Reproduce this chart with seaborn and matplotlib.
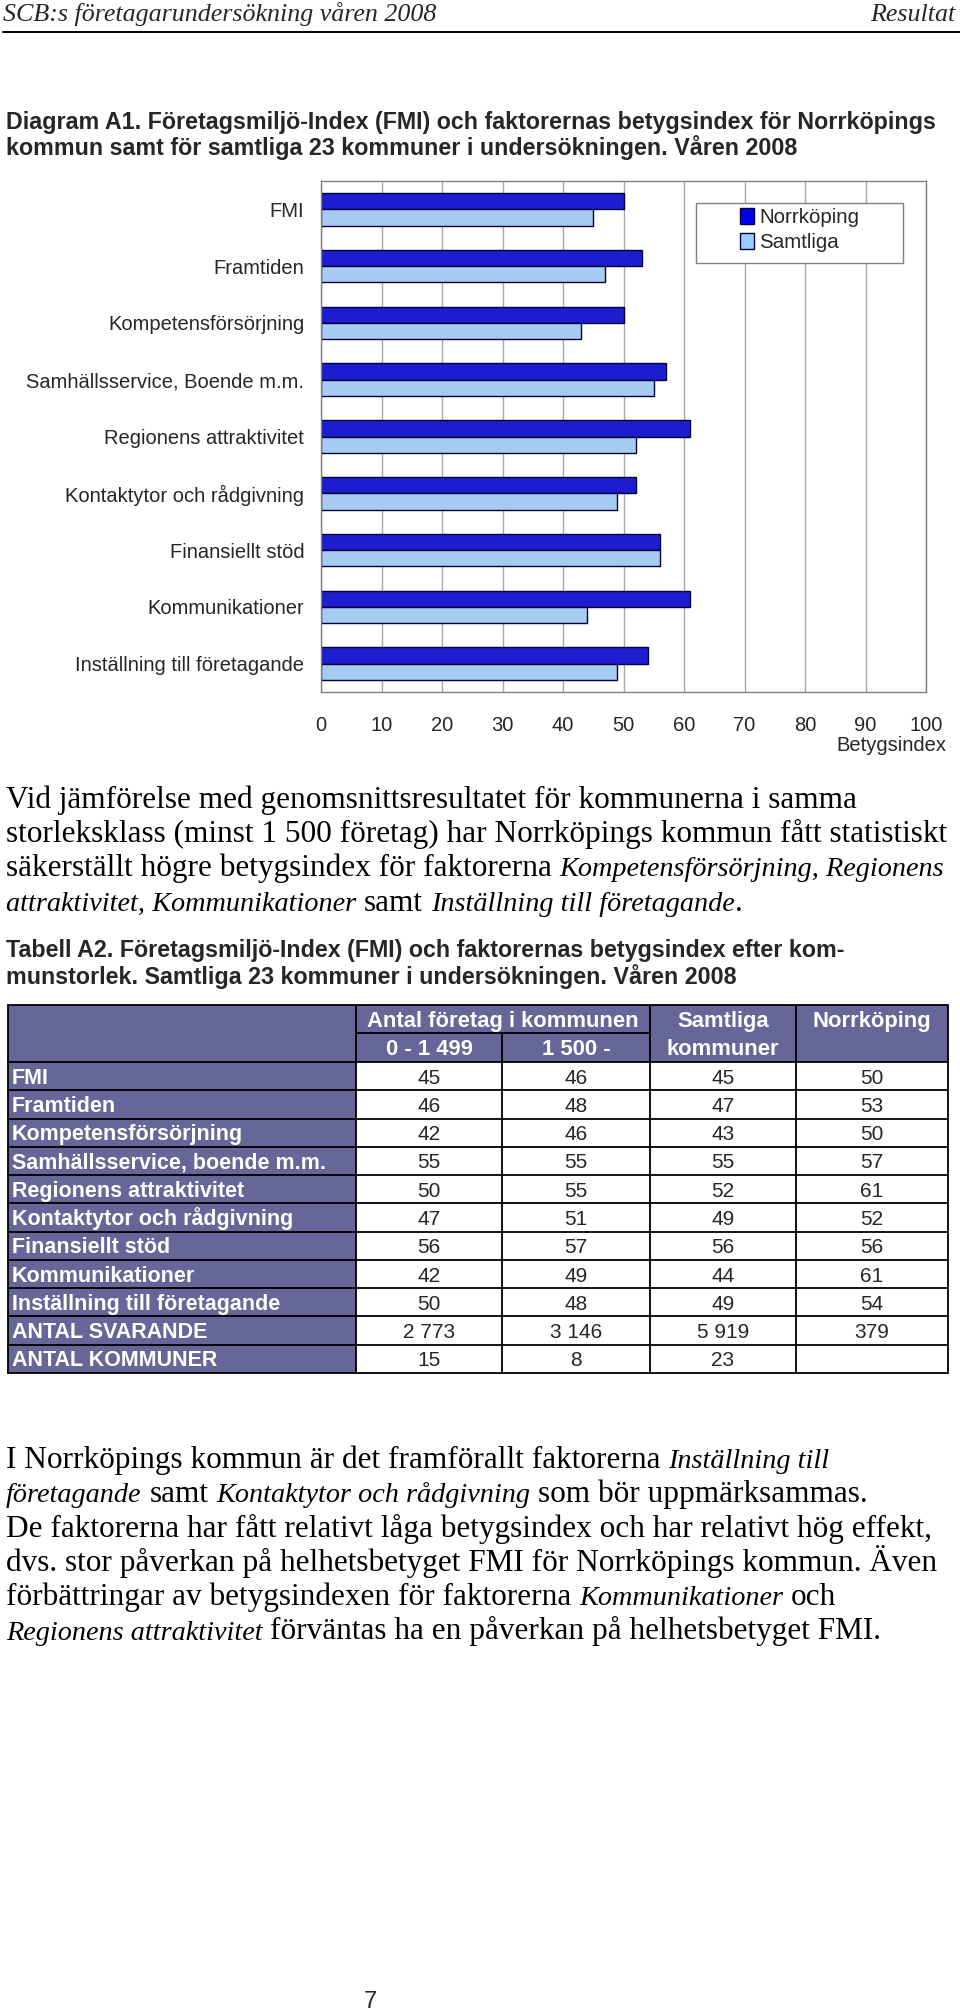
import matplotlib
matplotlib.use("Agg")
import matplotlib.pyplot as plt
from matplotlib.patches import Rectangle, Patch
import pandas as pd
import seaborn as sns

# --- data ---
kategorier = ["FMI", "Framtiden", "Kompetensförsörjning", "Samhällsservice, Boende m.m.",
              "Regionens attraktivitet", "Kontaktytor och rådgivning", "Finansiellt stöd",
              "Kommunikationer", "Inställning till företagande"]
serier = ["Norrköping", "Samtliga"]

tabell_rader = ["FMI", "Framtiden", "Kompetensförsörjning", "Samhällsservice, boende m.m.",
                "Regionens attraktivitet", "Kontaktytor och rådgivning", "Finansiellt stöd",
                "Kommunikationer", "Inställning till företagande", "ANTAL SVARANDE", "ANTAL KOMMUNER"]
sma_kommuner = [45, 46, 42, 55, 50, 47, 56, 42, 50, 2773, 15]
stora_kommuner = [46, 48, 46, 55, 55, 51, 57, 49, 48, 3146, 8]
samtliga = [45, 47, 43, 55, 52, 49, 56, 44, 49, 5919, 23]
norrkoping = [50, 53, 50, 57, 61, 52, 56, 61, 54, 379, None]

x_ticks = list(range(0, 101, 10))

W, H = 960, 2013
SANS = ["Liberation Sans", "DejaVu Sans"]
SERIF = ["Liberation Serif", "DejaVu Serif"]
MORK = "#0000ee"
LJUS = "#99ccff"
KANT = "#00003a"
LILA = "#666699"

sns.set_style("white")
plt.rcParams["font.family"] = SANS

fig = plt.figure(figsize=(W / 100, H / 100), dpi=100)
page = fig.add_axes([0, 0, 1, 1])
page.set_xlim(0, W)
page.set_ylim(H, 0)
page.axis("off")
renderer = fig.canvas.get_renderer()


def text_w(s, size, **kw):
    t = page.text(0, 0, s, fontsize=size, **kw)
    w = t.get_window_extent(renderer).width
    t.remove()
    return w


def fit_size(s, target, **kw):
    return 10 * target / text_w(s, 10, **kw)


def run_kw(style):
    return dict(family=SERIF, style="italic" if style == "i" else "normal")


def run_width(s, style, size):
    kw = run_kw(style)
    sw = text_w("x x", size, **kw) - text_w("xx", size, **kw)
    core = s.strip()
    lead = len(s) - len(s.lstrip())
    trail = len(s) - len(s.rstrip()) if core else 0
    return lead * sw + (text_w(core, size, **kw) if core else 0) + trail * sw


def draw_runs(x, y, runs, sizes):
    for s, style in runs:
        size = sizes[style]
        kw = run_kw(style)
        sw = text_w("x x", size, **kw) - text_w("xx", size, **kw)
        core = s.strip()
        lead = len(s) - len(s.lstrip())
        trail = len(s) - len(s.rstrip()) if core else 0
        x += lead * sw
        if core:
            page.text(x, y, core, fontsize=size, va="baseline", ha="left", color="black", **kw)
            x += text_w(core, size, **kw)
        x += trail * sw


# --- page header ---
head = "SCB:s företagarundersökning våren 2008"
hs = fit_size(head, 435, family=SERIF, style="italic")
page.text(3, 21, head, fontsize=hs, family=SERIF, style="italic", va="baseline")
page.text(955, 21, "Resultat", fontsize=hs, family=SERIF, style="italic", va="baseline", ha="right")
page.plot([3, 960], [32, 32], color="black", lw=1.4)

# --- diagram title ---
t1 = "Diagram A1. Företagsmiljö-Index (FMI) och faktorernas betygsindex för Norrköpings"
t2 = "kommun samt för samtliga 23 kommuner i undersökningen. Våren 2008"
ts = fit_size(t1, 929, weight="bold")
page.text(6, 129, t1, fontsize=ts, weight="bold", va="baseline")
page.text(6, 155, t2, fontsize=ts, weight="bold", va="baseline")

# --- chart ---
ax = fig.add_axes([321 / W, 1 - 692 / H, 605 / W, 511 / H])
df = pd.DataFrame({
    "Faktor": kategorier * 2,
    "Betygsindex": norrkoping[:9] + samtliga[:9],
    "Serie": [serier[0]] * 9 + [serier[1]] * 9,
})
sns.barplot(data=df, y="Faktor", x="Betygsindex", hue="Serie", hue_order=serier,
            palette=[MORK, LJUS], orient="h", width=0.574, edgecolor=KANT,
            linewidth=1, legend=False, ax=ax)
ax.set_xlim(0, 100)
ax.set_ylim(8.5, -0.5)
ax.set_xticks(x_ticks)
ax.set_xlabel("")
ax.set_ylabel("")
ax.set_axisbelow(True)
ax.xaxis.grid(True, color="#a8a8a8", lw=1)
ax.yaxis.grid(False)
for sp in ax.spines.values():
    sp.set_color("#808080")
    sp.set_linewidth(1)
ax.tick_params(axis="x", length=0, pad=17, labelsize=14.5)
ax.tick_params(axis="y", length=0, pad=12, labelsize=14.5)
fig.text(946 / W, 1 - 751 / H, "Betygsindex", fontsize=14.5, ha="right", va="baseline")

fig.add_artist(Rectangle((696 / W, 1 - 263 / H), 207 / W, 60 / H, transform=fig.transFigure,
                         facecolor="white", edgecolor="#808080", lw=1, zorder=4))
handles = [Patch(facecolor=MORK, edgecolor=KANT, lw=1), Patch(facecolor=LJUS, edgecolor=KANT, lw=1)]
leg = fig.legend(handles, serier, loc="upper left", bbox_to_anchor=(740 / W, 1 - 208 / H),
                 frameon=False, fontsize=14.8, handlelength=0.7, handleheight=0.8,
                 handletextpad=0.25, labelspacing=0.3, borderpad=0, borderaxespad=0)
leg.set_zorder(5)

# --- paragraph 1 ---
para1 = [
    [("Vid jämförelse med genomsnittsresultatet för kommunerna i samma", "n")],
    [("storleksklass (minst 1 500 företag) har Norrköpings kommun fått statistiskt", "n")],
    [("säkerställt högre betygsindex för faktorerna ", "n"), ("Kompetensförsörjning, Regionens", "i")],
    [("attraktivitet, Kommunikationer", "i"), (" samt ", "n"), ("Inställning till företagande", "i"), (".", "n")],
]
ps = 10 * 940 / run_width(para1[1][0][0], "n", 10)
rom = run_width(para1[2][0][0], "n", ps)
ital = 10 * (940 - rom) / run_width(para1[2][1][0], "i", 10)
sizes = {"n": ps, "i": ital}
for i, line in enumerate(para1):
    draw_runs(6, 808 + 34.2 * i, line, sizes)

# --- table title ---
tt1 = "Tabell A2. Företagsmiljö-Index (FMI) och faktorernas betygsindex efter kom-"
tt2 = "munstorlek. Samtliga 23 kommuner i undersökningen. Våren 2008"
tts = fit_size(tt1, 839, weight="bold")
page.text(6, 957, tt1, fontsize=tts, weight="bold", va="baseline")
page.text(6, 984, tt2, fontsize=tts, weight="bold", va="baseline")

# --- table ---
cx = [8, 356, 502, 650, 796, 948]
top, mid, hbot = 1005, 1033, 1062
rh = (1373 - hbot) / len(tabell_rader)
lw_t = 1.3

page.add_patch(Rectangle((cx[0], top), cx[-1] - cx[0], hbot - top, facecolor=LILA, edgecolor="none"))
page.add_patch(Rectangle((cx[0], hbot), cx[1] - cx[0], rh * len(tabell_rader), facecolor=LILA, edgecolor="none"))


def fmt(v):
    if v is None:
        return ""
    return f"{v:,}".replace(",", " ")


for r, namn in enumerate(tabell_rader):
    y0 = hbot + r * rh
    yb = y0 + rh / 2 + 7.5
    page.text(12, yb, namn, fontsize=15.5, weight="bold", color="white", va="baseline")
    for c, kol in enumerate([sma_kommuner, stora_kommuner, samtliga, norrkoping]):
        xm = (cx[c + 1] + cx[c + 2]) / 2
        page.text(xm, yb, fmt(kol[r]), fontsize=15, ha="center", va="baseline")

# header texts
hb1 = (top + mid) / 2 + 7.5
hb2 = (mid + hbot) / 2 + 7.5
hkw = dict(fontsize=15.8, weight="bold", color="white", ha="center", va="baseline")
page.text((cx[1] + cx[3]) / 2, hb1, "Antal företag i kommunen", **hkw)
page.text((cx[1] + cx[2]) / 2, hb2, "0 - 1 499", **hkw)
page.text((cx[2] + cx[3]) / 2, hb2, "1 500 -", **hkw)
page.text((cx[3] + cx[4]) / 2, hb1, "Samtliga", **hkw)
page.text((cx[3] + cx[4]) / 2, hb2, "kommuner", **hkw)
page.text((cx[4] + cx[5]) / 2, hb1, "Norrköping", **hkw)

# grid lines
bottom = hbot + rh * len(tabell_rader)
for r in range(len(tabell_rader) + 1):
    y = hbot + r * rh
    page.plot([cx[0], cx[-1]], [y, y], color="black", lw=lw_t)
page.plot([cx[0], cx[-1]], [top, top], color="black", lw=lw_t)
page.plot([cx[1], cx[3]], [mid, mid], color="black", lw=lw_t)
for i, x in enumerate(cx):
    if i == 2:
        page.plot([x, x], [mid, bottom], color="black", lw=lw_t)
    else:
        page.plot([x, x], [top, bottom], color="black", lw=lw_t)

# --- paragraph 2 ---
para2 = [
    [("I Norrköpings kommun är det framförallt faktorerna ", "n"), ("Inställning till", "i")],
    [("företagande", "i"), (" samt ", "n"), ("Kontaktytor och rådgivning", "i"), (" som bör uppmärksammas.", "n")],
    [("De faktorerna har fått relativt låga betygsindex och har relativt hög effekt,", "n")],
    [("dvs. stor påverkan på helhetsbetyget FMI för Norrköpings kommun. Även", "n")],
    [("förbättringar av betygsindexen för faktorerna ", "n"), ("Kommunikationer", "i"), (" och", "n")],
    [("Regionens attraktivitet", "i"), (" förväntas ha en påverkan på helhetsbetyget FMI.", "n")],
]
for i, line in enumerate(para2):
    draw_runs(6, 1468 + 34.3 * i, line, sizes)

# --- page number ---
page.text(370, 2008, "7", fontsize=17, ha="center", va="baseline")

fig.savefig("out.png", dpi=100)
